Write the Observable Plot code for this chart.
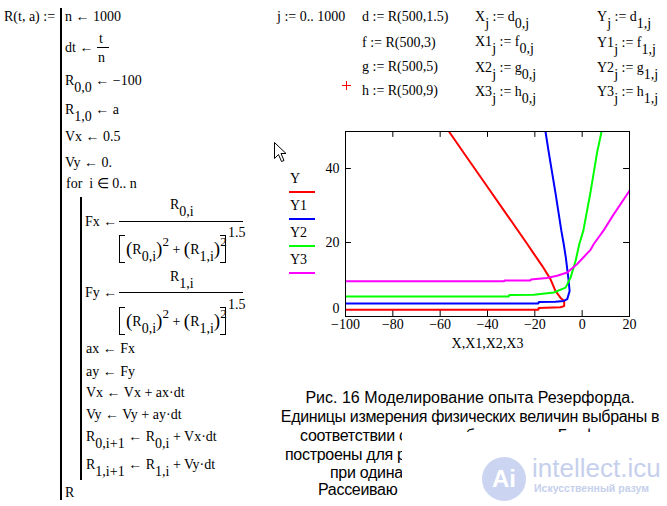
<!DOCTYPE html>
<html><head><meta charset="utf-8">
<script src="https://cdn.jsdelivr.net/npm/d3@7"></script>
<script src="https://cdn.jsdelivr.net/npm/@observablehq/plot@0.6"></script>
<style>
html,body{margin:0;padding:0;background:#fff;}
body{width:667px;height:506px;position:relative;overflow:hidden;}
.t{position:absolute;white-space:nowrap;font-family:"Liberation Serif","Times New Roman",serif;font-size:14px;line-height:16px;color:#000;}
.s{position:relative;top:7px;}
.u{position:relative;top:-8px;font-size:13px;}
.p{font-size:19px;position:relative;top:1px;}
.bar{position:absolute;width:2px;background:#000;}
.fb{position:absolute;height:1px;background:#000;}
.lb{position:absolute;width:5px;border:1px solid #000;border-right:none;}
.rb{position:absolute;width:5px;border:1px solid #000;border-left:none;}
.cap{position:absolute;white-space:nowrap;font-family:"Liberation Sans",Arial,sans-serif;font-size:16px;line-height:18px;color:#000;}
.leg{position:absolute;width:26px;height:2px;}
#chart svg{position:absolute;left:300px;top:120px;}
</style></head><body>

<!-- program block -->
<div class="t" style="left:4px;top:9px">R(t, a) :=</div>
<div class="bar" style="left:60px;top:8px;height:492px"></div>
<div class="t" style="left:65px;top:9px">n ← 1000</div>
<div class="t" style="left:65px;top:40px">dt ←</div>
<div class="t" style="left:99px;top:31px">t</div>
<div class="fb" style="left:97px;top:47px;width:12px"></div>
<div class="t" style="left:98px;top:50px">n</div>
<div class="t" style="left:65px;top:73px">R<span class="s">0,0</span> ← −100</div>
<div class="t" style="left:65px;top:102px">R<span class="s">1,0</span> ← a</div>
<div class="t" style="left:65px;top:129px">Vx ← 0.5</div>
<div class="t" style="left:65px;top:155px">Vy ← 0.</div>
<div class="t" style="left:66px;top:176px">for&nbsp; i ∈ 0.. n</div>
<div class="bar" style="left:80px;top:197px;height:283px"></div>

<div class="t" style="left:85px;top:214px">Fx ←</div>
<div class="t" style="left:170px;top:197px">R<span class="s">0,i</span></div>
<div class="fb" style="left:119px;top:221px;width:124px"></div>
<div class="lb" style="left:119px;top:235px;height:26px"></div>
<div class="t" style="left:126px;top:240px"><span class="p">(</span>R<span class="s">0,i</span><span class="p">)</span><span class="u">2</span> + <span class="p">(</span>R<span class="s">1,i</span><span class="p">)</span><span class="u">2</span></div>
<div class="rb" style="left:220px;top:235px;height:26px"></div>
<div class="t" style="left:228px;top:225px">1.5</div>

<div class="t" style="left:85px;top:285px">Fy ←</div>
<div class="t" style="left:170px;top:269px">R<span class="s">1,i</span></div>
<div class="fb" style="left:119px;top:292px;width:124px"></div>
<div class="lb" style="left:119px;top:307px;height:26px"></div>
<div class="t" style="left:126px;top:312px"><span class="p">(</span>R<span class="s">0,i</span><span class="p">)</span><span class="u">2</span> + <span class="p">(</span>R<span class="s">1,i</span><span class="p">)</span><span class="u">2</span></div>
<div class="rb" style="left:220px;top:307px;height:26px"></div>
<div class="t" style="left:228px;top:297px">1.5</div>

<div class="t" style="left:86px;top:341px">ax ← Fx</div>
<div class="t" style="left:86px;top:364px">ay ← Fy</div>
<div class="t" style="left:86px;top:385px">Vx ← Vx + ax·dt</div>
<div class="t" style="left:86px;top:407px">Vy ← Vy + ay·dt</div>
<div class="t" style="left:86px;top:429px">R<span class="s">0,i+1</span> ← R<span class="s">0,i</span> + Vx·dt</div>
<div class="t" style="left:86px;top:457px">R<span class="s">1,i+1</span> ← R<span class="s">1,i</span> + Vy·dt</div>
<div class="t" style="left:65px;top:485px">R</div>

<!-- definitions -->
<div class="t" style="left:277px;top:9px">j := 0.. 1000</div>
<div class="t" style="left:362px;top:9px">d := R(500,1.5)</div>
<div class="t" style="left:362px;top:35px">f := R(500,3)</div>
<div class="t" style="left:362px;top:59px">g := R(500,5)</div>
<div class="t" style="left:362px;top:83px">h := R(500,9)</div>
<div class="t" style="left:475px;top:9px">X<span class="s">j</span> := d<span class="s">0,j</span></div>
<div class="t" style="left:475px;top:34px">X1<span class="s">j</span> := f<span class="s">0,j</span></div>
<div class="t" style="left:475px;top:60px">X2<span class="s">j</span> := g<span class="s">0,j</span></div>
<div class="t" style="left:475px;top:84px">X3<span class="s">j</span> := h<span class="s">0,j</span></div>
<div class="t" style="left:597px;top:9px">Y<span class="s">j</span> := d<span class="s">1,j</span></div>
<div class="t" style="left:597px;top:35px">Y1<span class="s">j</span> := f<span class="s">1,j</span></div>
<div class="t" style="left:597px;top:60px">Y2<span class="s">j</span> := g<span class="s">1,j</span></div>
<div class="t" style="left:597px;top:84px">Y3<span class="s">j</span> := h<span class="s">1,j</span></div>
<div style="position:absolute;left:342px;top:85px;width:9px;height:1px;background:#f00"></div>
<div style="position:absolute;left:346px;top:81px;width:1px;height:9px;background:#f00"></div>

<div id="chart"></div>

<!-- legend -->
<div id="legend"></div>

<!-- cursor -->
<svg style="position:absolute;left:273px;top:141px" width="14" height="23">
<path d="M1.5,1.5 L1.5,17.5 L5.5,13.5 L8.5,20.5 L11,19.5 L8,12.5 L13,12.5 Z" fill="#fff" stroke="#000" stroke-width="1"/>
</svg>

<!-- caption -->
<div class="cap" style="left:270px;width:400px;text-align:center;top:389px">Рис. 16 Моделирование опыта Резерфорда.</div>
<div class="cap" style="left:270px;width:400px;text-align:center;top:408px;letter-spacing:-0.35px">Единицы измерения физических величин выбраны в</div>
<div class="cap" style="left:300px;top:427px;letter-spacing:-0.3px">соответствии с масштабами атома. Графики</div>
<div class="cap" style="left:285px;top:446px;letter-spacing:-0.3px">построены для р</div>
<div class="cap" style="left:330px;top:464px;letter-spacing:-0.3px">при одина</div>
<div class="cap" style="left:318px;top:481px;letter-spacing:-0.3px">Рассеиваю</div>
<div style="position:absolute;left:402px;top:432px;width:265px;height:74px;background:#fff"></div>
<div style="position:absolute;left:482px;top:457px;width:44px;height:44px;border-radius:50%;background:#cbd4f1;color:#fff;font:bold 24px 'Liberation Sans',sans-serif;line-height:44px;text-align:center">Ai</div>
<div style="position:absolute;left:532px;top:455px;font:26px 'Liberation Sans',sans-serif;line-height:26px;color:#c6d0ec;white-space:nowrap">intellect.icu</div>
<div style="position:absolute;left:534px;top:482px;font:bold 10.5px 'Liberation Sans',sans-serif;line-height:12px;color:#c6d0ec;white-space:nowrap">Искусственный разум</div>

<script>
const xDomain = [-100, 20];
const yDomain = [0, 50];
const xTicks = [-100, -80, -60, -40, -20, 0, 20];
const yTicks = [0, 20, 40];
const seriesNames = ["Y", "Y1", "Y2", "Y3"];
const seriesColors = ["#ff0000", "#0000ff", "#00ff00", "#ff00ff"];

// Y : d = R(500, 1.5)
const X  = [-100, -18.5, -18.4, -9.2, -7.6, -7.6, -9.2, -11.3, -13.4, -16.9, -21.1, -23.2, -33.1, -41.6, -50.0, -56.3];
const Y  = [1.8, 1.8, 2.3, 2.5, 2.8, 4.2, 5.1, 6.9, 10.1, 13.7, 17.6, 19.6, 28.7, 36.5, 44.2, 50];
// Y1 : f = R(500, 3)
const X1 = [-100, -18.5, -18.4, -11.3, -7.8, -6.3, -5.3, -5.7, -6.9, -7.8, -8.8, -11.3, -14.1, -15.5];
const Y1 = [3.5, 3.5, 3.9, 4.0, 4.2, 4.7, 6.9, 9.6, 15.9, 19.6, 23.2, 33.5, 44.3, 50];
// Y2 : g = R(500, 5)
const X2 = [-100, -31.0, -30.9, -20.4, -12.0, -7.0, -4.9, -2.8, -1.2, 0.5, 3.5, 6.3, 8.2];
const Y2 = [5.4, 5.4, 5.8, 5.9, 6.5, 7.8, 10.5, 15.0, 19.6, 23.2, 33.5, 44.3, 50];
// Y3 : h = R(500, 9)
const X3 = [-100, -33.0, -32.9, -21.8, -21.7, -15.0, -10.6, -6.3, -2.1, 3.5, 4.9, 9.0, 12.9, 20];
const Y3 = [9.5, 9.5, 9.7, 9.7, 10.0, 10.4, 11.0, 11.9, 14.2, 18.0, 19.6, 23.2, 27.2, 34];

const xs = [X, X1, X2, X3];
const ys = [Y, Y1, Y2, Y3];

const tickLenX = 2.5; // inward tick length along x (data units)
const tickLenY = 1.6; // inward tick length along y (data units)
const innerX = xTicks.slice(1, -1);
const innerY = yTicks.slice(1);

const lineMarks = xs.map((xa, k) =>
  Plot.line(xa.map((x, i) => ({x, y: ys[k][i]})), {x: "x", y: "y", stroke: seriesColors[k], strokeWidth: 2, clip: true, strokeLinejoin: "miter"})
);

const chart = Plot.plot({
  width: 340, height: 240,
  marginLeft: 45, marginRight: 11, marginTop: 11, marginBottom: 44,
  style: {fontFamily: '"Liberation Serif", "Times New Roman", serif', fontSize: "14px", color: "#000", background: "none", overflow: "visible"},
  x: {domain: xDomain},
  y: {domain: yDomain},
  marks: [
    Plot.axisX(xTicks, {tickSize: 0, tickPadding: 3, label: null}),
    Plot.axisY(yTicks.filter(d => d !== 0), {tickSize: 0, tickPadding: 6, label: null}),
    Plot.axisY(yTicks.filter(d => d === 0), {tickSize: 0, tickPadding: 6, label: null, dy: -8}),
    Plot.ruleX(innerX, {x: d => d, y1: yDomain[0], y2: yDomain[0] + tickLenY, stroke: "#000"}),
    Plot.ruleX(innerX, {x: d => d, y1: yDomain[1] - tickLenY, y2: yDomain[1], stroke: "#000"}),
    Plot.ruleY(innerY, {y: d => d, x1: xDomain[0], x2: xDomain[0] + tickLenX, stroke: "#000"}),
    Plot.ruleY(innerY, {y: d => d, x1: xDomain[1] - tickLenX, x2: xDomain[1], stroke: "#000"}),
    ...lineMarks,
    Plot.frame({stroke: "#000"}),
    Plot.text(["X,X1,X2,X3"], {frameAnchor: "bottom", dy: 31, fill: "#000"})
  ]
});
document.getElementById("chart").appendChild(chart);

// legend (left of the plot)
const legend = document.getElementById("legend");
seriesNames.forEach((name, k) => {
  const lab = document.createElement("div");
  lab.className = "t";
  lab.style.left = "290px";
  lab.style.top = (171 + k * 27) + "px";
  lab.textContent = name;
  legend.appendChild(lab);
  const sw = document.createElement("div");
  sw.className = "leg";
  sw.style.left = "289px";
  sw.style.top = (191 + k * 27) + "px";
  sw.style.background = seriesColors[k];
  legend.appendChild(sw);
});
</script>
</body></html>
